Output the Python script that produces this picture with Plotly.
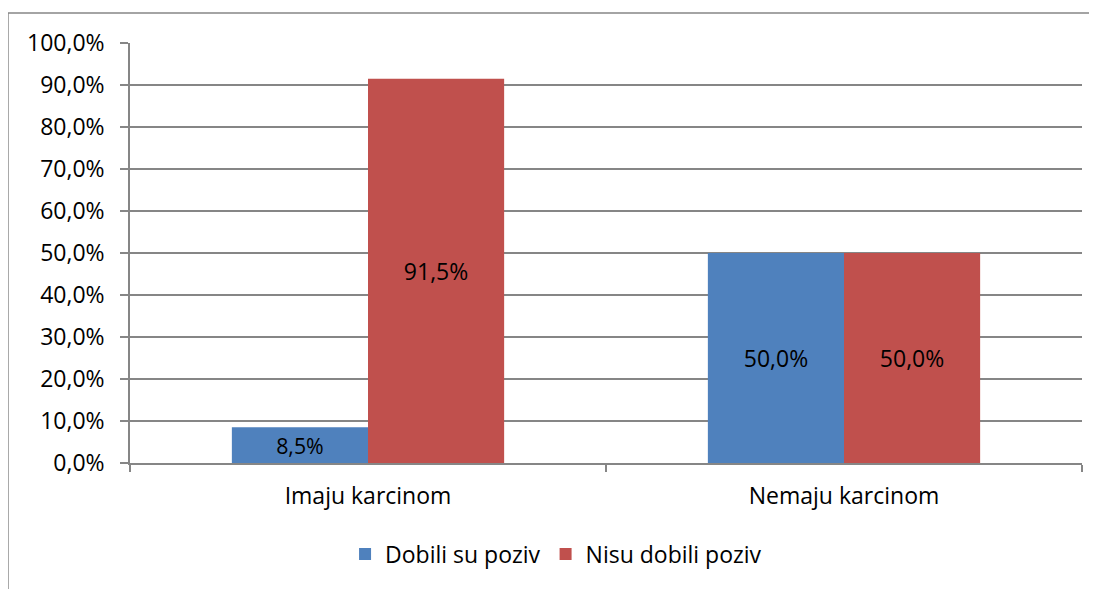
import plotly.graph_objects as go

categories = ["Imaju karcinom", "Nemaju karcinom"]
dobili = [8.5, 50.0]
nisu_dobili = [91.5, 50.0]
series_names = ["Dobili su poziv", "Nisu dobili poziv"]
y_ticks = [0, 10, 20, 30, 40, 50, 60, 70, 80, 90, 100]
y_ticktext = ["0,0%", "10,0%", "20,0%", "30,0%", "40,0%", "50,0%",
              "60,0%", "70,0%", "80,0%", "90,0%", "100,0%"]

FONT = "Open Sans, Lato, sans-serif"
FS = 23

fig = go.Figure()
for vals, name, color in [(dobili, series_names[0], "#4F81BD"),
                          (nisu_dobili, series_names[1], "#C0504D")]:
    fig.add_trace(go.Bar(
        x=categories, y=vals, name=name,
        marker=dict(color=color, line=dict(width=0)),
        texttemplate="%{y:.1f}%", textposition="inside", insidetextanchor="middle",
        textfont=dict(color="black", size=FS, family=FONT), textangle=0,
    ))

fig.update_layout(
    width=1089, height=581,
    margin=dict(l=122, r=15, t=35, b=126),
    paper_bgcolor="white", plot_bgcolor="white",
    font=dict(family=FONT, size=FS, color="black"),
    separators=", ",
    barmode="group", bargap=0.428, bargroupgap=0,
    uniformtext=dict(mode=False),
    legend=dict(orientation="h", x=0.2259, xanchor="left", y=-0.217, yanchor="middle",
                font=dict(size=FS), itemwidth=30, traceorder="normal"),
    shapes=[dict(type="rect", xref="paper", yref="paper",
                 x0=-0.1282, x1=1.03, y0=-0.35, y1=1.0714,
                 line=dict(color="#868686", width=1.5), fillcolor="rgba(0,0,0,0)", layer="below")],
)
fig.update_xaxes(
    showline=True, linecolor="#868686", linewidth=1.5,
    ticks="outside", ticklen=7, tickcolor="#868686", tickwidth=1.5,
    tickson="boundaries", showgrid=False, ticklabelstandoff=12,
    tickfont=dict(size=FS),
)
fig.update_yaxes(
    range=[0, 100], tickvals=y_ticks, ticktext=y_ticktext,
    showgrid=True, gridcolor="#868686", gridwidth=1.5,
    showline=True, linecolor="#868686", linewidth=1.5,
    ticks="outside", ticklen=8, tickcolor="#868686", tickwidth=1.5,
    ticklabelstandoff=11, zeroline=False, tickfont=dict(size=FS),
)

fig.write_html("out.html")
